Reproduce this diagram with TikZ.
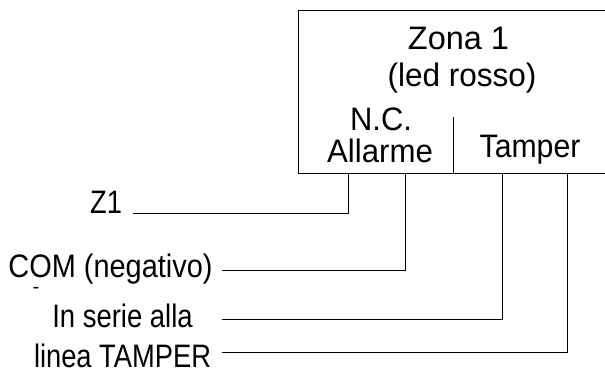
\documentclass[tikz,border=0pt]{standalone}
\usepackage{fontspec}
\setmainfont{Liberation Sans}
\begin{document}
\begin{tikzpicture}[x=1pt,y=-1pt,
  lbl/.style={inner sep=0pt,anchor=base,font=\fontsize{32.5}{32.5}\selectfont},
  wire/.style={line width=0.9pt,black}]
\useasboundingbox (0,0) rectangle (605,369);
% box (cut off at the right edge)
\draw[wire] (605,10) -- (298,10) -- (298,173) -- (605,173);
\coordinate (dtop) at (453,117);
\coordinate (dbot) at (453,173);
\draw[wire] (dtop) -- (dbot);
% texts
\node[lbl,xscale=1.0] (zona) at (458.5,50) {Zona 1};
\node[lbl,xscale=0.97] (led) at (462,87) {(led rosso)};
\node[lbl,xscale=0.95] (nc) at (381,130) {N.C.};
\node[lbl,xscale=0.96] (all) at (380,162) {Allarme};
\node[lbl,xscale=0.93] (tam) at (530,157) {Tamper};
\node[lbl,xscale=0.84] (z1) at (106,213) {Z1};
\node[lbl,xscale=0.89] (com) at (110.5,277) {COM (negativo)};
\node[lbl,xscale=0.845] (ser) at (122.5,327) {In serie alla};
\node[lbl,xscale=0.84] (lin) at (122.5,367.5) {linea TAMPER};
\node[inner sep=0pt,font=\fontsize{20}{20}\selectfont] (dash) at (36,290) {-};
% terminals
\coordinate (t1) at (348,173);
\coordinate (t2) at (405,173);
\coordinate (t3) at (502,173);
\coordinate (t4) at (567,173);
\coordinate (e1) at (133,213);
\coordinate (e2) at (222,270);
\coordinate (e3) at (222,319);
\coordinate (e4) at (222,352);
\draw[wire] (t1) |- (e1);
\draw[wire] (t2) |- (e2);
\draw[wire] (t3) |- (e3);
\draw[wire] (t4) |- (e4);
\end{tikzpicture}
\end{document}
